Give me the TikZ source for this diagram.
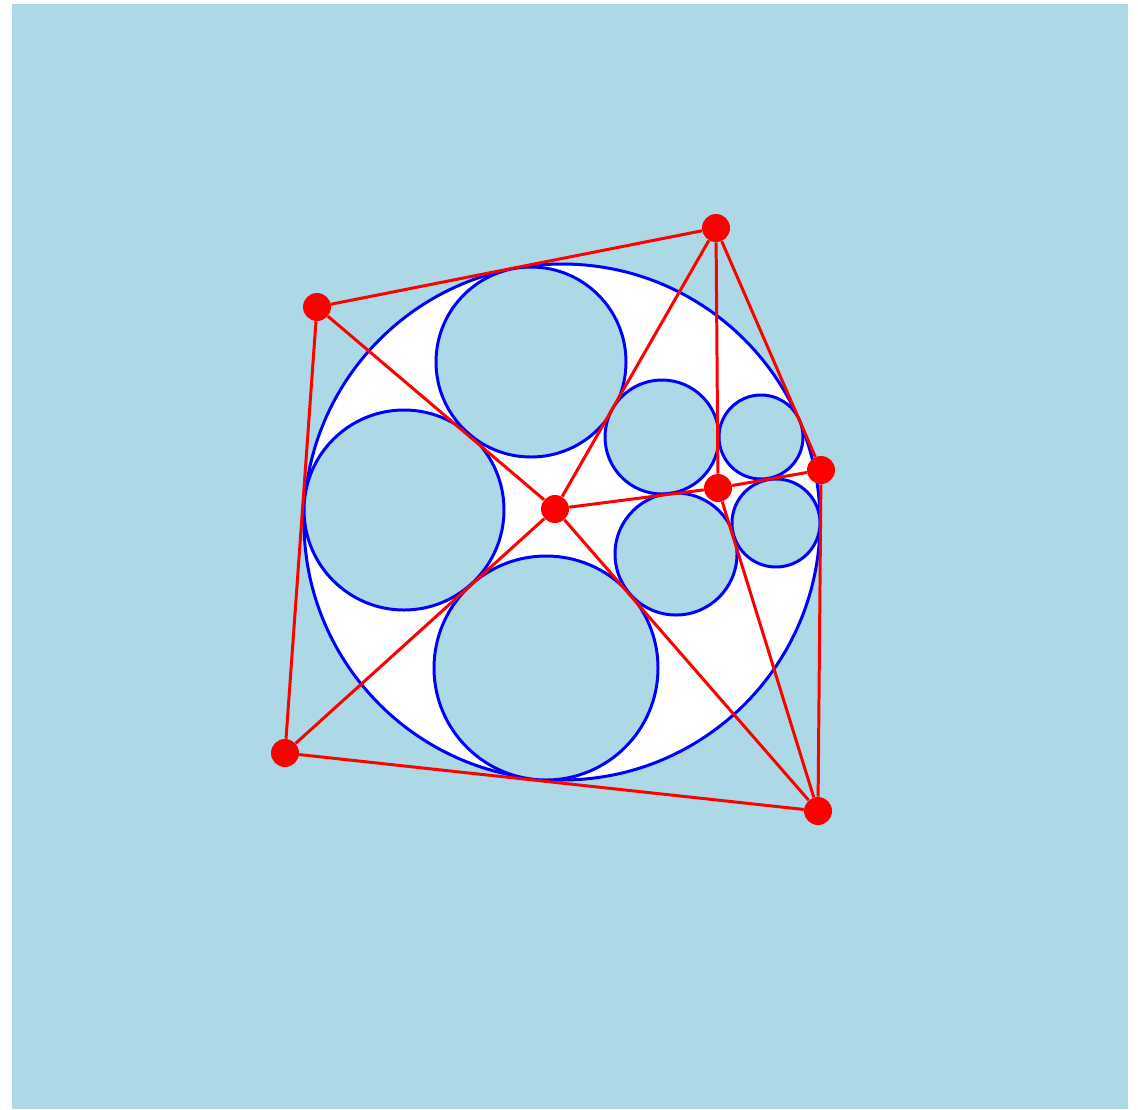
\documentclass[tikz,border=0pt]{standalone}
\definecolor{bgblue}{HTML}{ADD8E6}
\tikzset{
  ring/.style={draw=blue, line width=1.7pt, fill=bgblue},
  edge/.style={draw=red, line width=1.7pt},
  dot/.style={circle, fill=red, inner sep=0pt, minimum size=0.56cm}
}
\begin{document}
\begin{tikzpicture}[x=0.02cm, y=-0.02cm]
\useasboundingbox (0,0) rectangle (1138,1109);
% Hintergrund
\fill[bgblue] (12,4) rectangle (1128,1109);
% grosser Kreis
\draw[draw=blue, line width=1.7pt, fill=white] (562,522) circle (258);
% innere Kreise
\draw[ring] (531,362) circle (95);
\draw[ring] (404,510) circle (100);
\draw[ring] (546,668) circle (112);
\draw[ring] (662,437) circle (57);
\draw[ring] (761,437) circle (42);
\draw[ring] (676,554) circle (61);
\draw[ring] (776,523) circle (44);
% Punkte
\node[dot] (top) at (716,228) {};
\node[dot] (nw) at (317,307) {};
\node[dot] (east) at (821,470) {};
\node[dot] (mid) at (718,488) {};
\node[dot] (ctr) at (555,509) {};
\node[dot] (sw) at (285,753) {};
\node[dot] (se) at (818,811) {};
% Kanten
\draw[edge] (nw) -- (top);
\draw[edge] (top) -- (ctr);
\draw[edge] (top) -- (mid);
\draw[edge] (top) -- (east);
\draw[edge] (nw) -- (ctr);
\draw[edge] (nw) -- (sw);
\draw[edge] (ctr) -- (mid);
\draw[edge] (mid) -- (east);
\draw[edge] (ctr) -- (sw);
\draw[edge] (ctr) -- (se);
\draw[edge] (mid) -- (se);
\draw[edge] (east) -- (se);
\draw[edge] (sw) -- (se);
\end{tikzpicture}
\end{document}
